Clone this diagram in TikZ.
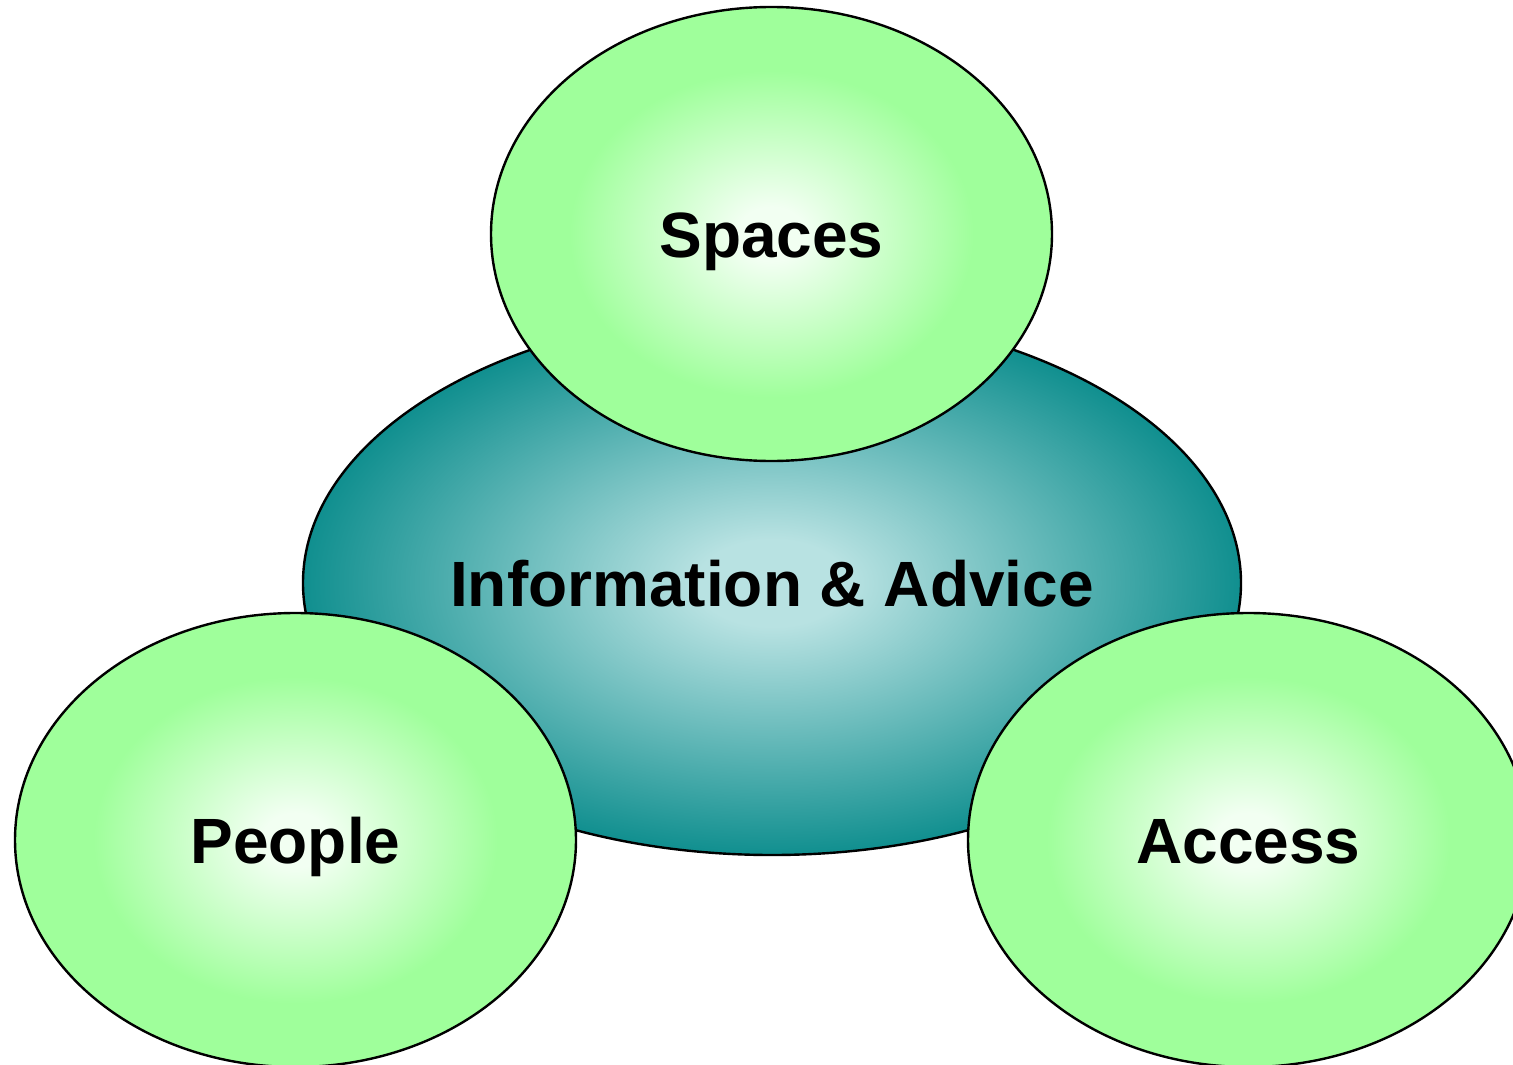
\documentclass[tikz,border=0pt]{standalone}
\usepackage{fontspec}
\setmainfont{Liberation Sans}
\usetikzlibrary{shapes.geometric}
\definecolor{gin}{HTML}{F2FFF2}
\definecolor{gout}{HTML}{9FFF9B}
\definecolor{tin}{HTML}{B8E2E2}
\definecolor{tout}{HTML}{108F8F}
\pgfdeclareradialshading{greenball}{\pgfpoint{0bp}{0bp}}{color(0bp)=(gin); color(3bp)=(gin); color(18bp)=(gout); color(25bp)=(gout); color(50bp)=(gout)}
\pgfdeclareradialshading{tealball}{\pgfpoint{0bp}{0bp}}{color(0bp)=(tin); color(4bp)=(tin); color(25bp)=(tout); color(50bp)=(tout)}
\tikzset{
  blob/.style={ellipse, draw=black, line width=2.4pt, inner sep=0pt, font=\fontsize{64}{66}\selectfont\bfseries, text=black, text height=46pt, text depth=0pt},
  greenblob/.style={blob, shading=greenball, minimum width=561pt, minimum height=454pt},
  tealblob/.style={blob, shading=tealball, minimum width=938pt, minimum height=544pt}
}
\begin{document}
\begin{tikzpicture}[x=1pt,y=-1pt]
\useasboundingbox (0,0) rectangle (1513,1065);
\node[tealblob] (info) at (772,583) {Information \& Advice};
\node[greenblob] (spaces) at (771.5,234) {Spaces};
\node[greenblob] (people) at (295.5,840) {People};
\node[greenblob] (access) at (1248.5,840) {Access};
\end{tikzpicture}
\end{document}
